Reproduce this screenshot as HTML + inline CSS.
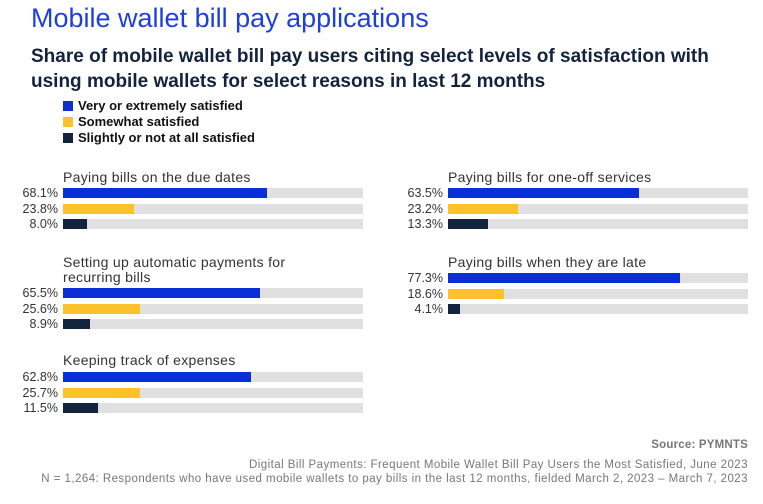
<!DOCTYPE html>
<html><head><meta charset="utf-8"><style>
body{margin:0;width:763px;height:504px;background:#fff;font-family:"Liberation Sans",sans-serif;position:relative;overflow:hidden}
.a{position:absolute;white-space:nowrap}
.t{left:31px;top:3px;font-size:27px;color:#1d3fdc}
.s{left:31px;top:44px;font-size:19px;font-weight:bold;color:#14233d;line-height:25px}
.lg{left:63px;font-size:13px;font-weight:bold;color:#111;line-height:16px}
.lg i{display:inline-block;width:10px;height:10px;margin-right:5px;vertical-align:-1px}
.lab{font-size:14px;color:#333;line-height:15px;letter-spacing:0.3px}
.pct{font-size:12.5px;color:#333;text-align:right;width:50px}
.tr{height:10px;background:#e0e0e0;width:300px}
.tr b{display:block;height:10px}
.f{font-size:11.5px;color:#777;right:15px;text-align:right;letter-spacing:0.45px}
</style></head><body>
<div class="a t">Mobile wallet bill pay applications</div>
<div class="a s">Share of mobile wallet bill pay users citing select levels of satisfaction with<br>using mobile wallets for select reasons in last 12 months</div>
<div class="a lg" style="top:98px"><i style="background:#0b2fd6"></i>Very or extremely satisfied</div>
<div class="a lg" style="top:114px"><i style="background:#fdc12b"></i>Somewhat satisfied</div>
<div class="a lg" style="top:130px"><i style="background:#13243e"></i>Slightly or not at all satisfied</div>
<div id="c"></div>
<div class="a f" style="top:439px;font-weight:bold;letter-spacing:0.2px">Source: PYMNTS</div>
<div class="a f" style="top:459px">Digital Bill Payments: Frequent Mobile Wallet Bill Pay Users the Most Satisfied, June 2023</div>
<div class="a f" style="top:473px">N = 1,264: Respondents who have used mobile wallets to pay bills in the last 12 months, fielded March 2, 2023 – March 7, 2023</div>
<script>
var g=[[63,170,188,"Paying bills on the due dates",[68.1,23.8,8.0]],
[63,255,288,"Setting up automatic payments for<br>recurring bills",[65.5,25.6,8.9]],
[63,353,372,"Keeping track of expenses",[62.8,25.7,11.5]],
[448,170,188,"Paying bills for one-off services",[63.5,23.2,13.3]],
[448,255,273,"Paying bills when they are late",[77.3,18.6,4.1]]];
var col=["#0b2fd6","#fdc12b","#13243e"],h="";
g.forEach(function(x){h+='<div class="a lab" style="left:'+x[0]+'px;top:'+x[1]+'px">'+x[3]+'</div>';
x[4].forEach(function(v,i){var y=x[2]+i*15.5;
h+='<div class="a pct" style="left:'+(x[0]-55)+'px;top:'+(y-2)+'px">'+v.toFixed(1)+'%</div>';
h+='<div class="a tr" style="left:'+x[0]+'px;top:'+y+'px"><b style="width:'+(v*3)+'px;background:'+col[i]+'"></b></div>';});});
document.getElementById("c").innerHTML=h;
</script>
</body></html>
